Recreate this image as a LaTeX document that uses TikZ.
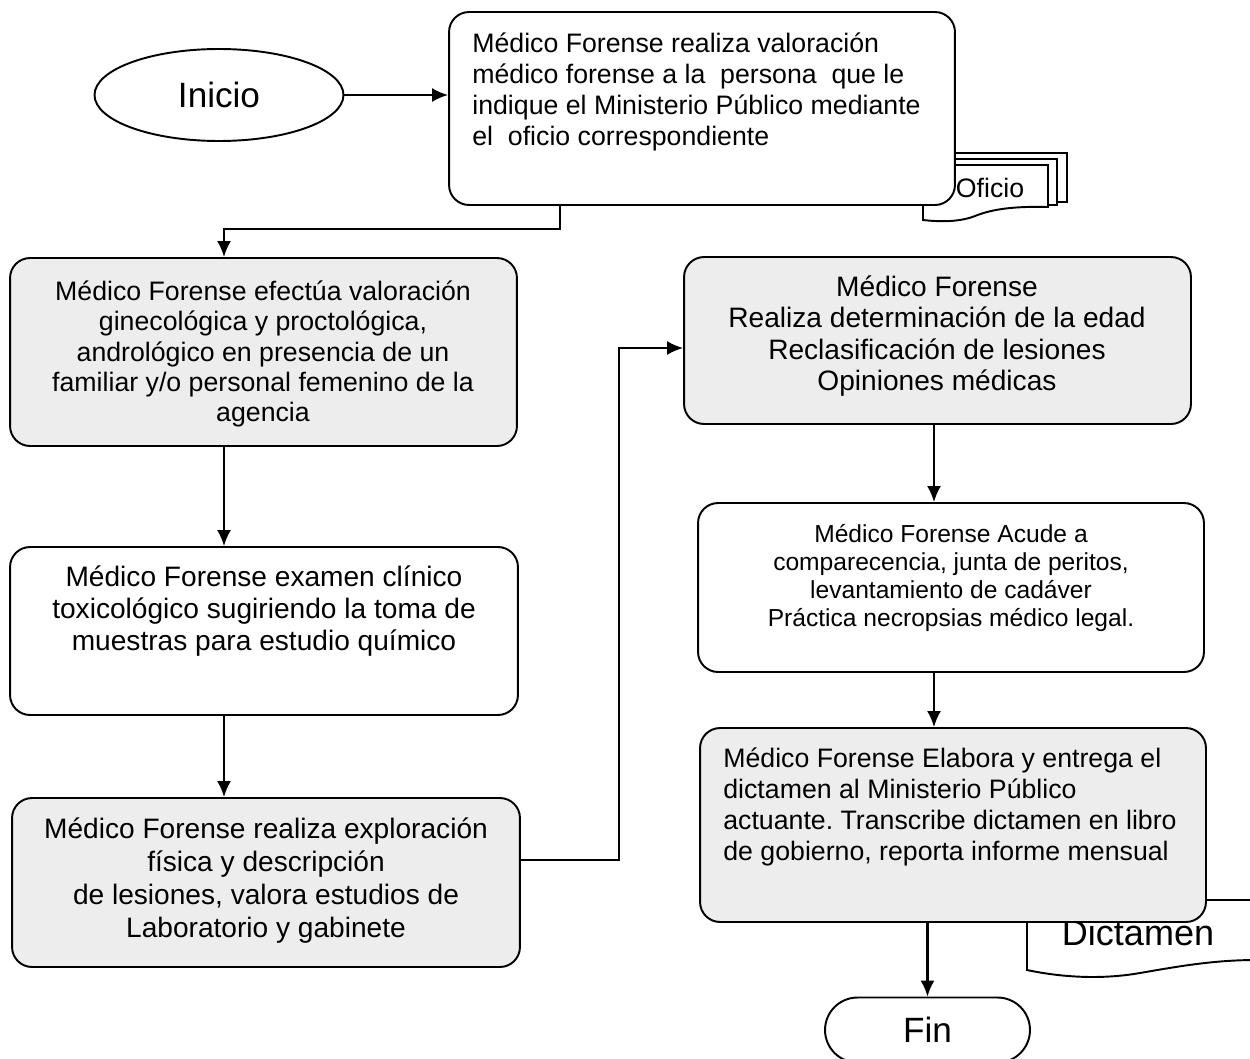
\documentclass[tikz,border=0pt]{standalone}
\usepackage{fontspec}
\setmainfont{Liberation Sans}
\frenchspacing
\usetikzlibrary{arrows.meta,shapes.geometric,shapes.misc}

\begin{document}
\begin{tikzpicture}[x=0.02cm,y=-0.02cm,
		caja/.style={draw, line width=1.1pt, rounded corners=0.4cm, fill=white},
		gris/.style={caja, fill=black!7},
		hoja/.style={draw, line width=1.1pt, fill=white},
		flecha/.style={line width=1.2pt, -{Latex[length=0.32cm,width=0.28cm]}}]
				\tikzstyle{every node}+=[inner sep=0pt]
				\useasboundingbox (0,0) rectangle (1250,1058);
				% documentos
				\filldraw[hoja] (930,153) -- (1067,153) -- (1067,202) -- (930,202) -- cycle;
				\filldraw[hoja] (930,159) -- (1057,159) -- (1057,205) -- (930,205) -- cycle;
				\filldraw[hoja] (923,165) -- (1048,165) -- (1048,207) .. controls (1010,206) and (990,210) .. (975,216) .. controls (960,222) and (940,222) .. (923,220) -- cycle;
				\node[font=\fontsize{15.2}{18}\selectfont] (oficio) at (990,188) {Oficio};
				\filldraw[hoja] (1027,900) -- (1256,900) -- (1256,960) .. controls (1215,960) and (1180,966) .. (1140,973) .. controls (1100,980) and (1060,977) .. (1027,970) -- cycle;
				\node[font=\fontsize{20.5}{24}\selectfont] (dictamen) at (1138,933) {Dictamen};
				% inicio y fin
				\node[ellipse, draw, line width=1.1pt, minimum width=4.98cm, minimum height=1.84cm, font=\fontsize{20}{24}\selectfont] (ini) at (219,95) {Inicio};
				\node[rounded rectangle, draw, line width=1.1pt, minimum width=4.1cm, minimum height=1.3cm, font=\fontsize{20}{24}\selectfont] (fin) at (927.5,1030) {Fin};
				% cajas
				\node[caja, minimum width=10.12cm, minimum height=3.86cm] (b1) at (702,108.5) {};
				\node[gris, minimum width=10.14cm, minimum height=3.76cm] (b2) at (263.5,352) {};
				\node[caja, minimum width=10.16cm, minimum height=3.36cm] (b3) at (264,631) {};
				\node[gris, minimum width=10.16cm, minimum height=3.38cm] (b4) at (266,882.5) {};
				\node[gris, minimum width=10.14cm, minimum height=3.34cm] (b5) at (937.5,340.5) {};
				\node[caja, minimum width=10.12cm, minimum height=3.38cm] (b6) at (951,587.5) {};
				\node[gris, minimum width=10.12cm, minimum height=3.88cm] (b7) at (953,825) {};
				% textos
				\node[anchor=west, align=left, font=\fontsize{15.2}{17.5}\selectfont] (b1t) at (472,92) {M\'edico Forense realiza valoraci\'on\\ m\'edico forense a la\ \ persona\ \ que le\\ indique el Ministerio P\'ublico mediante\\ el\ \ oficio correspondiente};
				\node[align=center, font=\fontsize{15.2}{17.2}\selectfont] (b2t) at (263,354) {M\'edico Forense efect\'ua valoraci\'on\\ ginecol\'ogica y proctol\'ogica,\\ androl\'ogico en presencia de un\\ familiar y/o personal femenino de la\\ agencia};
				\node[align=center, font=\fontsize{16}{18}\selectfont] (b3t) at (264,611) {M\'edico Forense examen cl\'inico\\ toxicol\'ogico sugiriendo la toma de\\ muestras para estudio qu\'imico};
				\node[align=center, font=\fontsize{16}{18.8}\selectfont] (b4t) at (266,881) {M\'edico Forense realiza exploraci\'on\\ f\'isica y descripci\'on\\ de lesiones, valora estudios de\\ Laboratorio y gabinete};
				\node[align=center, font=\fontsize{16}{18}\selectfont] (b5t) at (937,336) {M\'edico Forense\\ Realiza determinaci\'on de la edad\\ Reclasificaci\'on de lesiones\\ Opiniones m\'edicas};
				\node[align=center, font=\fontsize{14}{15.8}\selectfont] (b6t) at (951,578) {M\'edico Forense Acude a\\ comparecencia, junta de peritos,\\ levantamiento de cad\'aver\\ Pr\'actica necropsias m\'edico legal.};
				\node[anchor=west, align=left, font=\fontsize{15.2}{17.6}\selectfont] (b7t) at (723,807) {M\'edico Forense Elabora y entrega el\\ dictamen al Ministerio P\'ublico\\ actuante. Transcribe dictamen en libro\\ de gobierno, reporta informe mensual};
				% conectores
				\coordinate (c1) at (560,0);
				\coordinate (c2) at (224,0);
				\coordinate (c3) at (619,600);
				\coordinate (c4) at (934,0);
				\draw[flecha] (ini.east) -- (ini.east -| b1.west);
				\draw[flecha] (c1 |- b1.south) -- ++(0,23) -| (c2 |- b2.north);
				\draw[flecha] (c2 |- b2.south) -- (c2 |- b3.north);
				\draw[flecha] (c2 |- b3.south) -- (c2 |- b4.north);
				\draw[flecha] ([yshift=0.45cm]b4.east) -| (c3) |- ([yshift=-0.15cm]b5.west);
				\draw[flecha] (c4 |- b5.south) -- (c4 |- b6.north);
				\draw[flecha] (c4 |- b6.south) -- (c4 |- b7.north);
				\draw[flecha] (fin.north |- b7.south) -- (fin.north);
			\end{tikzpicture}
\end{document}
